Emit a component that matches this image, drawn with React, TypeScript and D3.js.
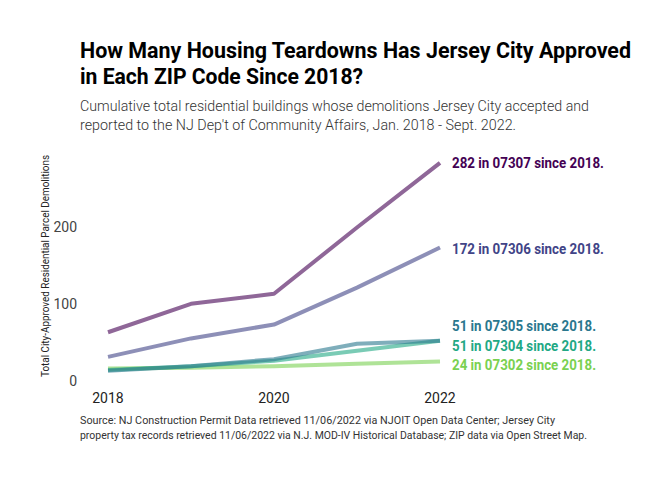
import React, { useEffect, useRef } from "react";
import * as d3 from "d3";

// cumulative demolitions per ZIP code, by year
const years = [2018, 2019, 2020, 2021, 2022];
const zips = ["07307", "07306", "07305", "07304", "07302"];
const v07307 = [62, 99, 112, 198, 282];
const v07306 = [30, 54, 72, 120, 172];
const v07305 = [12, 18, 27, 47, 51];
const v07304 = [13, 18, 25, 38, 51];
const v07302 = [15, 16, 18, 21, 24];
const seriesValues = [v07307, v07306, v07305, v07304, v07302];
const colors = ["#440154", "#414487", "#2a788e", "#22a884", "#7ad151"];
const yTicks = [0, 100, 200];
const xTicks = [2018, 2020, 2022];

const FONT = "Roboto, sans-serif";

const App = () => {
  const svgRef = useRef<SVGSVGElement>(null);

  useEffect(() => {
    const svg = d3.select(svgRef.current);
    svg.selectAll("*").remove();

    const width = 672;
    const height = 480;

    const x = d3.scaleLinear().domain([2018, 2022]).range([108, 440]);
    const y = d3.scaleLinear().domain([0, 300]).range([380, 149]);

    // Title
    const title = [
      { t: "How Many Housing Teardowns Has Jersey City Approved", w: 551, y: 58 },
      { t: "in Each ZIP Code Since 2018?", w: 283, y: 84 },
    ];
    title.forEach((d) => {
      svg.append("text")
        .attr("x", 80).attr("y", d.y)
        .attr("textLength", d.w).attr("lengthAdjust", "spacingAndGlyphs")
        .style("font-family", FONT).style("font-weight", 700)
        .style("font-size", "22px").style("fill", "#000")
        .text(d.t);
    });

    const sub = [
      { t: "Cumulative total residential buildings whose demolitions Jersey City accepted and", w: 509, y: 111 },
      { t: "reported to the NJ Dep't of Community Affairs, Jan. 2018 - Sept. 2022.", w: 436, y: 130 },
    ];
    sub.forEach((d) => {
      svg.append("text")
        .attr("x", 80).attr("y", d.y)
        .attr("textLength", d.w).attr("lengthAdjust", "spacingAndGlyphs")
        .style("font-family", FONT).style("font-weight", 300)
        .style("font-size", "15px").style("fill", "#333")
        .text(d.t);
    });

    // Axes (labels only)
    svg.append("g").selectAll("text")
      .data(yTicks).enter().append("text")
      .attr("x", 77).attr("y", (d) => y(d) + 6)
      .attr("text-anchor", "end")
      .style("font-family", FONT).style("font-size", "14px").style("fill", "#444")
      .text((d) => d);

    svg.append("g").selectAll("text")
      .data(xTicks).enter().append("text")
      .attr("x", (d) => x(d)).attr("y", 403)
      .attr("text-anchor", "middle")
      .style("font-family", FONT).style("font-size", "14px").style("fill", "#222")
      .text((d) => d);

    svg.append("text")
      .attr("transform", "translate(49, 266) rotate(-90)")
      .attr("text-anchor", "middle")
      .attr("textLength", 222).attr("lengthAdjust", "spacingAndGlyphs")
      .style("font-family", FONT).style("font-size", "11px").style("fill", "#222")
      .text("Total City-Approved Residential Parcel Demolitions");

    // Lines
    const line = d3.line<number>()
      .x((d, i) => x(years[i]))
      .y((d) => y(d));

    // draw smallest first so the big ones sit on top
    for (let s = seriesValues.length - 1; s >= 0; s--) {
      svg.append("path")
        .datum(seriesValues[s])
        .attr("fill", "none")
        .attr("stroke", colors[s])
        .attr("stroke-opacity", 0.6)
        .attr("stroke-width", 4)
        .attr("stroke-linejoin", "round")
        .attr("d", line);
    }

    // End labels
    const labelY = [163, 249, 326, 346, 365];
    zips.forEach((z, i) => {
      const vals = seriesValues[i];
      svg.append("text")
        .attr("x", 452).attr("y", labelY[i] + 5)
        .attr("textLength", i < 2 ? 152 : 144).attr("lengthAdjust", "spacingAndGlyphs")
        .style("font-family", FONT).style("font-weight", 700)
        .style("font-size", "14px").style("fill", colors[i])
        .text(`${vals[vals.length - 1]} in ${z} since 2018.`);
    });

    // Source
    const src = [
      { t: "Source: NJ Construction Permit Data retrieved 11/06/2022 via NJOIT Open Data Center; Jersey City", w: 475, y: 424 },
      { t: "property tax records retrieved 11/06/2022 via N.J. MOD-IV Historical Database; ZIP data via Open Street Map.", w: 507, y: 439 },
    ];
    src.forEach((d) => {
      svg.append("text")
        .attr("x", 80).attr("y", d.y)
        .attr("textLength", d.w).attr("lengthAdjust", "spacingAndGlyphs")
        .style("font-family", FONT).style("font-size", "11px").style("fill", "#333")
        .text(d.t);
    });

    svg.attr("width", width).attr("height", height);
  }, []);

  return (
    <div style={{ position: "absolute", left: 0, top: 0 }}>
      <svg ref={svgRef} width={672} height={480} style={{ display: "block", background: "#fff" }}></svg>
    </div>
  );
};

export default App;
